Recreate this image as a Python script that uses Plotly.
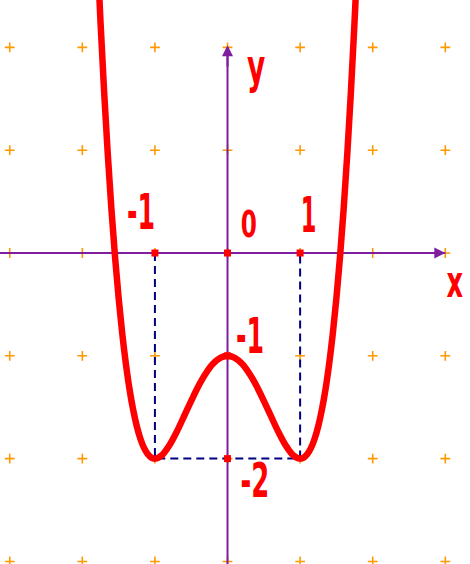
import json
import plotly.graph_objects as go

# Curve samples (y = x^4 - 2x^2 - 1 shape)
curve_x = [-1.80, -1.75, -1.70, -1.65, -1.60, -1.55, -1.50, -1.45, -1.40, -1.35, -1.30, -1.25, -1.20,
           -1.15, -1.10, -1.05, -1.00, -0.90, -0.80, -0.70, -0.60, -0.50, -0.40, -0.30, -0.20, -0.10,
           0.00, 0.10, 0.20, 0.30, 0.40, 0.50, 0.60, 0.70, 0.80, 0.90, 1.00, 1.05, 1.10, 1.15, 1.20,
           1.25, 1.30, 1.35, 1.40, 1.45, 1.50, 1.55, 1.60, 1.65, 1.70, 1.75, 1.80]
curve_y = [3.018, 2.254, 1.572, 0.967, 0.434, -0.033, -0.438, -0.785, -1.078, -1.324, -1.524, -1.684, -1.806,
           -1.896, -1.956, -1.990, -2.000, -1.964, -1.870, -1.740, -1.590, -1.438, -1.294, -1.172, -1.078, -1.020,
           -1.000, -1.020, -1.078, -1.172, -1.294, -1.438, -1.590, -1.740, -1.870, -1.964, -2.000, -1.990, -1.956,
           -1.896, -1.806, -1.684, -1.524, -1.324, -1.078, -0.785, -0.438, -0.033, 0.434, 0.967, 1.572, 2.254, 3.018]

grid_x = [-3, -2, -1, 0, 1, 2, 3]
grid_y = [-3, -2, -1, 0, 1, 2]

point_x = [-1, 0, 1, 0, 0]
point_y = [0, 0, 0, -1, -2]

label_text = ["-1", "0", "1", "-1", "-2", "y", "x"]
label_x = [-1.19, 0.30, 1.12, 0.31, 0.38, 0.39, 3.14]
label_y = [0.40, 0.28, 0.37, -0.81, -2.21, 1.82, -0.28]
label_size = [50, 38, 50, 50, 48, 48, 44]
label_scale = [0.56, 0.68, 0.5, 0.56, 0.6, 0.65, 0.65]

X_RANGE = [-3.134, 3.34]
Y_RANGE = [-3.025, 2.461]

PURPLE = "#7F1F9F"
RED = "#FF0000"
NAVY = "#000080"
ORANGE = "#FF9900"

fig = go.Figure()

# grid plus marks
gx, gy = [], []
for yy in grid_y:
    for xx in grid_x:
        gx.append(xx)
        gy.append(yy)
fig.add_trace(go.Scatter(x=gx, y=gy, mode="markers",
                         marker=dict(symbol="cross-thin", size=7, line=dict(color=ORANGE, width=1.6)),
                         hoverinfo="skip", showlegend=False))

# dashed guide lines
fig.add_trace(go.Scatter(x=[point_x[0], point_x[0], point_x[2], point_x[2]],
                         y=[point_y[0], point_y[4], point_y[4], point_y[2]],
                         mode="lines", line=dict(color=NAVY, width=2, dash="8px,5px"),
                         hoverinfo="skip", showlegend=False))

# axes
fig.add_trace(go.Scatter(x=[X_RANGE[0], 3], y=[0, 0], mode="lines",
                         line=dict(color=PURPLE, width=2), hoverinfo="skip", showlegend=False))
fig.add_trace(go.Scatter(x=[0, 0], y=[Y_RANGE[0], 2], mode="lines",
                         line=dict(color=PURPLE, width=2), hoverinfo="skip", showlegend=False))

# curve
fig.add_trace(go.Scatter(x=curve_x, y=curve_y, mode="lines", line=dict(color=RED, width=6.5, shape="spline"),
                         hoverinfo="skip", showlegend=False))

# points
fig.add_trace(go.Scatter(x=point_x, y=point_y, mode="markers",
                         marker=dict(symbol="square", size=7, color=RED),
                         hoverinfo="skip", showlegend=False))

# arrow heads
fig.add_annotation(x=3, y=0, ax=2.8, ay=0, xref="x", yref="y", axref="x", ayref="y",
                   showarrow=True, arrowhead=2, arrowsize=1.1, arrowwidth=2, arrowcolor=PURPLE, text="")
fig.add_annotation(x=0, y=2.02, ax=0, ay=1.8, xref="x", yref="y", axref="x", ayref="y",
                   showarrow=True, arrowhead=2, arrowsize=1.1, arrowwidth=2, arrowcolor=PURPLE, text="")

for t, xx, yy, s in zip(label_text, label_x, label_y, label_size):
    fig.add_annotation(x=xx, y=yy, xref="x", yref="y", text="<b>" + t + "</b>", showarrow=False,
                       font=dict(family="DejaVu Sans Condensed, DejaVu Sans, sans-serif",
                                 size=s, color=RED),
                       xanchor="center", yanchor="middle")

fig.update_layout(width=470, height=564, margin=dict(l=0, r=0, t=0, b=0),
                  plot_bgcolor="white", paper_bgcolor="white",
                  xaxis=dict(range=X_RANGE, visible=False, fixedrange=True),
                  yaxis=dict(range=Y_RANGE, visible=False, fixedrange=True))

scales = {str(i + 2): s for i, s in enumerate(label_scale)}
js = (
    "document.body.style.margin='0';"
    "var sc=" + json.dumps(scales) + ";"
    "function squeeze(){document.querySelectorAll('g.annotation').forEach(function(g){"
    "var i=g.getAttribute('data-index');if(sc[i]!==undefined){"
    "var t=g.querySelector('text.annotation-text');if(t){"
    "t.style.transformBox='fill-box';t.style.transformOrigin='center';"
    "t.style.transform='scaleX('+sc[i]+')';}}});}"
    "squeeze();setTimeout(squeeze,50);"
)

fig.write_html("out.html", config={"displayModeBar": False}, post_script=js)
